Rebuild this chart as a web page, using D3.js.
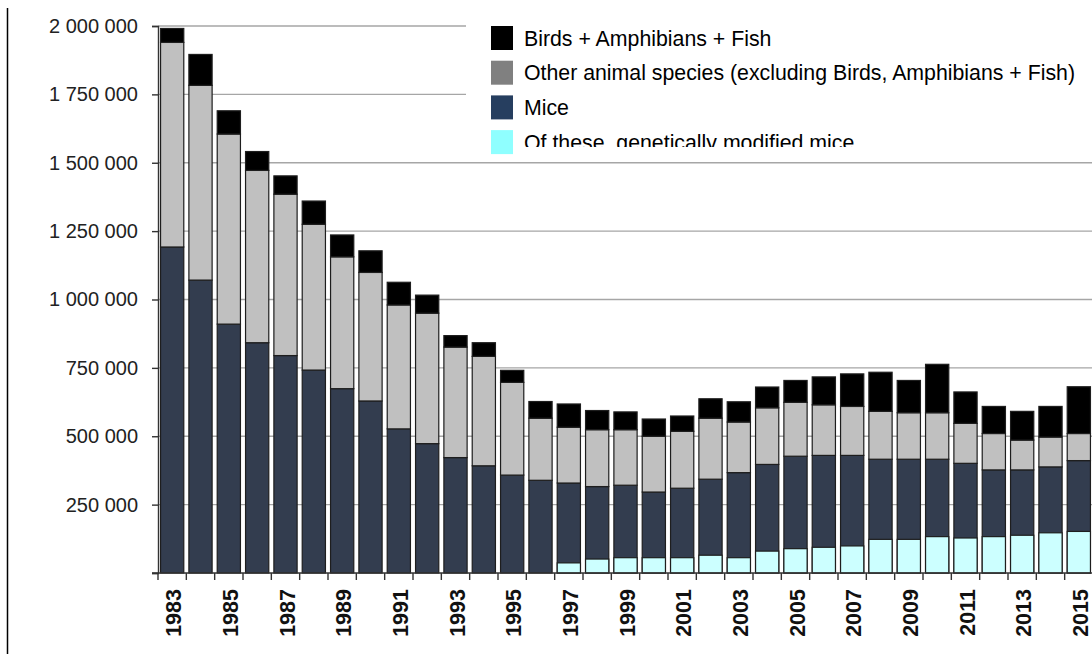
<!DOCTYPE html>
<html>
<head>
<meta charset="utf-8">
<script src="https://cdn.jsdelivr.net/npm/d3@7"></script>
<style>
  body { margin: 0; background: #fff; }
  svg { display: block; font-family: "Liberation Sans", Arial, sans-serif; }
</style>
</head>
<body>
<div id="myPlot"></div>
<script>
// Set Dimensions
const width = 1092;
const height = 654;
const plotLeft = 158;
const plotRight = 1093;
const plotTop = 26;
const plotBottom = 573;

// Data
const years = d3.range(1983, 2016).map(String);

// total mice (incl. genetically modified)
const mice = [1192000, 1071000, 910000, 842000, 795000, 742000, 674000, 629000, 527000, 473000,
  422000, 392000, 358000, 339000, 329000, 316000, 321000, 296000, 310000, 343000,
  367000, 397000, 427000, 430000, 430000, 416000, 416000, 416000, 401000, 377000,
  377000, 388000, 411000];

const otherSpecies = [748000, 712000, 695000, 630000, 590000, 533000, 482000, 470000, 453000, 477000,
  404000, 400000, 339000, 227000, 204000, 208000, 203000, 204000, 208000, 223000,
  185000, 207000, 197000, 185000, 179000, 175000, 170000, 170000, 146000, 133000,
  109000, 109000, 99000];

const birdsAmphFish = [51000, 113000, 85000, 69000, 67000, 85000, 80000, 79000, 83000, 66000,
  42000, 50000, 44000, 61000, 85000, 70000, 65000, 63000, 56000, 71000,
  74000, 76000, 80000, 102000, 119000, 143000, 118000, 177000, 115000, 99000,
  105000, 112000, 171000];

const gmMice = [0, 0, 0, 0, 0, 0, 0, 0, 0, 0,
  0, 0, 0, 0, 37000, 51000, 56000, 56000, 56000, 65000,
  56000, 80000, 89000, 94000, 99000, 123000, 123000, 133000, 128000, 133000,
  138000, 147000, 152000];

const yTicks = [0, 250000, 500000, 750000, 1000000, 1250000, 1500000, 1750000, 2000000];

const legendItems = [
  ["Birds + Amphibians + Fish", "#000000"],
  ["Other animal species (excluding Birds, Amphibians + Fish)", "#808080"],
  ["Mice", "#263e5f"],
  ["Of these, genetically modified mice", "#8fffff"],
];

const rows = years.map((yr, i) => ({
  year: yr,
  mice: mice[i],
  other: otherSpecies[i],
  birds: birdsAmphFish[i],
  gm: gmMice[i],
}));

// Append SVG Object to the Page
const svg = d3.select("#myPlot")
  .append("svg")
  .attr("width", width)
  .attr("height", height);

// Scales
const x = d3.scaleBand()
  .domain(years)
  .range([plotLeft, plotRight])
  .paddingInner(0.18)
  .paddingOuter(0.09);

const y = d3.scaleLinear()
  .domain([0, 2000000])
  .range([plotBottom, plotTop]);

const fmt = d3.formatLocale({ decimal: ".", thousands: " ", grouping: [3], currency: ["", ""] }).format(",d");

// left frame line
svg.append("line")
  .attr("x1", 7.5).attr("x2", 7.5)
  .attr("y1", 8).attr("y2", height)
  .attr("stroke", "#000")
  .attr("stroke-width", 1.5);

// gridlines
svg.append("g")
  .selectAll("line")
  .data(yTicks.filter(d => d > 0))
  .enter()
  .append("line")
  .attr("x1", plotLeft)
  .attr("x2", width)
  .attr("y1", d => y(d))
  .attr("y2", d => y(d))
  .attr("stroke", "#a6a6a6")
  .attr("stroke-width", 1.3);

// Stacked bars
const series = d3.stack().keys(["mice", "other", "birds"])(rows);
const barColors = { mice: "#333d4f", other: "#c0c0c0", birds: "#000000" };

svg.append("g")
  .selectAll("g")
  .data(series)
  .enter()
  .append("g")
  .attr("fill", d => barColors[d.key])
  .selectAll("rect")
  .data(d => d)
  .enter()
  .append("rect")
  .attr("x", d => x(d.data.year))
  .attr("y", d => y(d[1]))
  .attr("width", x.bandwidth())
  .attr("height", d => y(d[0]) - y(d[1]))
  .attr("stroke", "#1e1e1e")
  .attr("stroke-width", 1.2);

// genetically modified mice (part of the mice bar)
svg.append("g")
  .selectAll("rect")
  .data(rows.filter(d => d.gm > 0))
  .enter()
  .append("rect")
  .attr("x", d => x(d.year))
  .attr("y", d => y(d.gm))
  .attr("width", x.bandwidth())
  .attr("height", d => y(0) - y(d.gm))
  .attr("fill", "#ccffff")
  .attr("stroke", "#1e1e1e")
  .attr("stroke-width", 1.2);

// Y axis
const yAxis = svg.append("g")
  .attr("transform", `translate(${plotLeft},0)`)
  .call(d3.axisLeft(y)
    .tickValues(yTicks)
    .tickSize(6)
    .tickPadding(14)
    .tickFormat(d => d === 0 ? "" : fmt(d)));
yAxis.select(".domain").attr("stroke", "#333").attr("stroke-width", 1.4);
yAxis.selectAll(".tick line").attr("stroke", "#333").attr("stroke-width", 1.4);
yAxis.selectAll("text")
  .style("font-size", "20px")
  .attr("fill", "#222");

// X axis (ticks sit between the categories)
const step = x.step();
const gap = step - x.bandwidth();
const boundaries = years.map(yr => x(yr) - gap / 2).concat([x(years[years.length - 1]) + x.bandwidth() + gap / 2]);

svg.append("line")
  .attr("x1", plotLeft - 6)
  .attr("x2", width)
  .attr("y1", plotBottom)
  .attr("y2", plotBottom)
  .attr("stroke", "#333")
  .attr("stroke-width", 1.4);

svg.append("g")
  .selectAll("line")
  .data(boundaries)
  .enter()
  .append("line")
  .attr("x1", d => d).attr("x2", d => d)
  .attr("y1", plotBottom)
  .attr("y2", plotBottom + 7)
  .attr("stroke", "#333")
  .attr("stroke-width", 1.4);

svg.append("g")
  .selectAll("text")
  .data(years.filter((d, i) => i % 2 === 0))
  .enter()
  .append("text")
  .attr("transform", d => `translate(${x(d) + x.bandwidth() / 2},${plotBottom + 16}) rotate(-90)`)
  .attr("dy", "0.42em")
  .style("text-anchor", "end")
  .style("font-size", "21.5px")
  .style("font-weight", "bold")
  .attr("fill", "#111")
  .text(d => d);

// Legend
const legendX = 491;
const legendY0 = 38;
const legendStep = 34.7;

svg.append("defs").append("clipPath")
  .attr("id", "legendClip")
  .append("rect")
  .attr("x", 466).attr("y", 0)
  .attr("width", width - 466).attr("height", 147);

const legend = svg.append("g");
legend.append("rect")
  .attr("x", 466)
  .attr("y", 8)
  .attr("width", width - 466)
  .attr("height", 152)
  .attr("fill", "#fff");

legend.append("g")
  .selectAll("rect")
  .data(legendItems)
  .enter()
  .append("rect")
  .attr("x", legendX)
  .attr("y", (d, i) => legendY0 + i * legendStep - 12)
  .attr("width", 22)
  .attr("height", 24)
  .attr("fill", d => d[1]);

legend.append("g")
  .attr("clip-path", "url(#legendClip)")
  .selectAll("text")
  .data(legendItems)
  .enter()
  .append("text")
  .attr("x", legendX + 33)
  .attr("y", (d, i) => legendY0 + i * legendStep)
  .attr("dy", "0.36em")
  .style("font-size", "21.3px")
  .attr("fill", "#000")
  .text(d => d[0]);
</script>
</body>
</html>
